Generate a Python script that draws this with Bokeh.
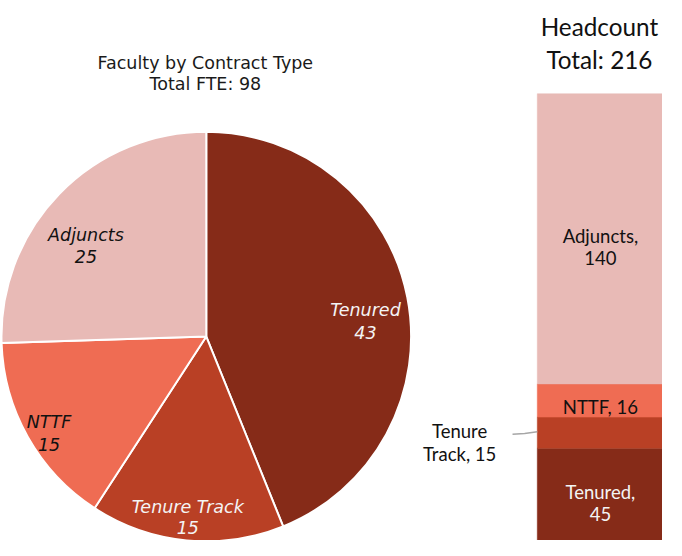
import math
from bokeh.plotting import figure
from bokeh.models import Range1d, ColumnDataSource
from bokeh.embed import file_html
from bokeh.resources import INLINE
from bokeh.core.properties import value

# ---------------- data ----------------
pie_categories = ["Tenured", "Tenure Track", "NTTF", "Adjuncts"]
pie_values = [43, 15, 15, 25]
pie_title = ["Faculty by Contract Type", "Total FTE: 98"]

bar_categories = ["Tenured", "Tenure Track", "NTTF", "Adjuncts"]
bar_values = [45, 15, 16, 140]
bar_title = ["Headcount", "Total: 216"]

colors = ["#862B18", "#B94025", "#EF6C53", "#E8BAB6"]

# ---------------- layout ----------------
# Work in the reference picture's pixel grid (682 x 556) and scale it to fit.
RW, RH = 682, 556
H = 540
S = H / RH
W = int(round(RW * S))


def sy(y):               # reference screen y -> data y (y up)
    return RH - y


def fs(px):
    return f"{px * S:.1f}px"


VERDANA = value("DejaVu Sans")
CALIBRI = value("Lato")

p = figure(width=W, height=H, output_backend="svg", toolbar_location=None,
           x_range=Range1d(0, RW), y_range=Range1d(0, RH),
           min_border=0, outline_line_color=None)
p.axis.visible = False
p.grid.visible = False
p.background_fill_color = "white"
p.border_fill_color = "white"

# ---------------- pie ----------------
cx, cy, R = 212, sy(346), 211
total = sum(pie_values)
starts, ends = [], []
cum = 0
for v in pie_values:
    starts.append(math.pi / 2 - 2 * math.pi * cum / total)
    cum += v
    ends.append(math.pi / 2 - 2 * math.pi * cum / total)
pie_src = ColumnDataSource(dict(cat=pie_categories, val=pie_values,
                                start=starts, end=ends, color=colors))
p.wedge(x=cx, y=cy, radius=R, start_angle="start", end_angle="end",
        direction="clock", fill_color="color", line_color="white",
        line_width=2, source=pie_src)

# pie labels (anchor in reference px: center x, first-line baseline, line gap)
pie_label_pos = {"Tenured": (376, 319, 23), "Tenure Track": (193, 522, 21),
                 "NTTF": (50, 434, 23), "Adjuncts": (88, 241, 23)}
pie_label_color = {"Tenured": "#F4F4F4", "Tenure Track": "#F4F4F4",
                   "NTTF": "#111111", "Adjuncts": "#111111"}
for cat, v in zip(pie_categories, pie_values):
    x0, b0, gap = pie_label_pos[cat]
    for i, t in enumerate([cat, str(v)]):
        p.text(x=[x0], y=[sy(b0 + gap * i)], text=[t], text_align="center",
               text_baseline="alphabetic", text_font=VERDANA,
               text_font_style="italic", text_font_size=fs(18),
               text_color=pie_label_color[cat])

# pie title
for i, t in enumerate(pie_title):
    p.text(x=[211], y=[sy(64 + 22 * i)], text=[t], text_align="center",
           text_baseline="alphabetic", text_font=VERDANA,
           text_font_size=fs(18), text_color="#1A1A1A")

# ---------------- stacked headcount bar ----------------
bar_bottom_ref, bar_top_ref = 557, 96
k = (bar_bottom_ref - bar_top_ref) / sum(bar_values)   # ref px per person
y0 = sy(bar_bottom_ref)
p.extra_y_ranges = {"hc": Range1d((0 - y0) / k, (RH - y0) / k)}

bottoms, tops = [], []
c = 0
for v in bar_values:
    bottoms.append(c)
    c += v
    tops.append(c)
bar_src = ColumnDataSource(dict(cat=bar_categories, bottom=bottoms, top=tops,
                                color=colors))
p.vbar(x=617.5, width=129, bottom="bottom", top="top", y_range_name="hc",
       fill_color="color", line_color="color", line_width=0.5, source=bar_src)

# in-bar labels
bar_label_color = {"Tenured": "#F4F4F4", "NTTF": "#111111", "Adjuncts": "#111111"}
for cat, v, b, t in zip(bar_categories, bar_values, bottoms, tops):
    if cat == "Tenure Track":
        continue
    mid = (b + t) / 2
    lines = [f"{cat}, {v}"] if cat == "NTTF" else [f"{cat},", str(v)]
    offs = [7] if len(lines) == 1 else [-3, 20]
    for line, o in zip(lines, offs):
        p.text(x=[618], y=[mid], y_range_name="hc", y_offset=o * S, text=[line],
               text_align="center", text_baseline="alphabetic",
               text_font=CALIBRI, text_font_size=fs(19),
               text_color=bar_label_color[cat])

# outside label for Tenure Track with leader line
tt_val = bar_values[bar_categories.index("Tenure Track")]
for i, t in enumerate(["Tenure", f"Track, {tt_val}"]):
    p.text(x=[473], y=[sy(443 + 24 * i)], text=[t], text_align="center",
           text_baseline="alphabetic", text_font=CALIBRI,
           text_font_size=fs(19), text_color="#111111")
p.line(x=[527.5, 540, 553], y=[sy(446.7), sy(445.8), sy(444)],
       line_color="#A6A6A6", line_width=1.5)

# bar title
for i, t in enumerate(bar_title):
    p.text(x=[617], y=[sy(27 + 34 * i)], text=[t], text_align="center",
           text_baseline="alphabetic", text_font=CALIBRI,
           text_font_size=fs(25), text_color="#111111")

open("out.html", "w").write(file_html(p, INLINE))
